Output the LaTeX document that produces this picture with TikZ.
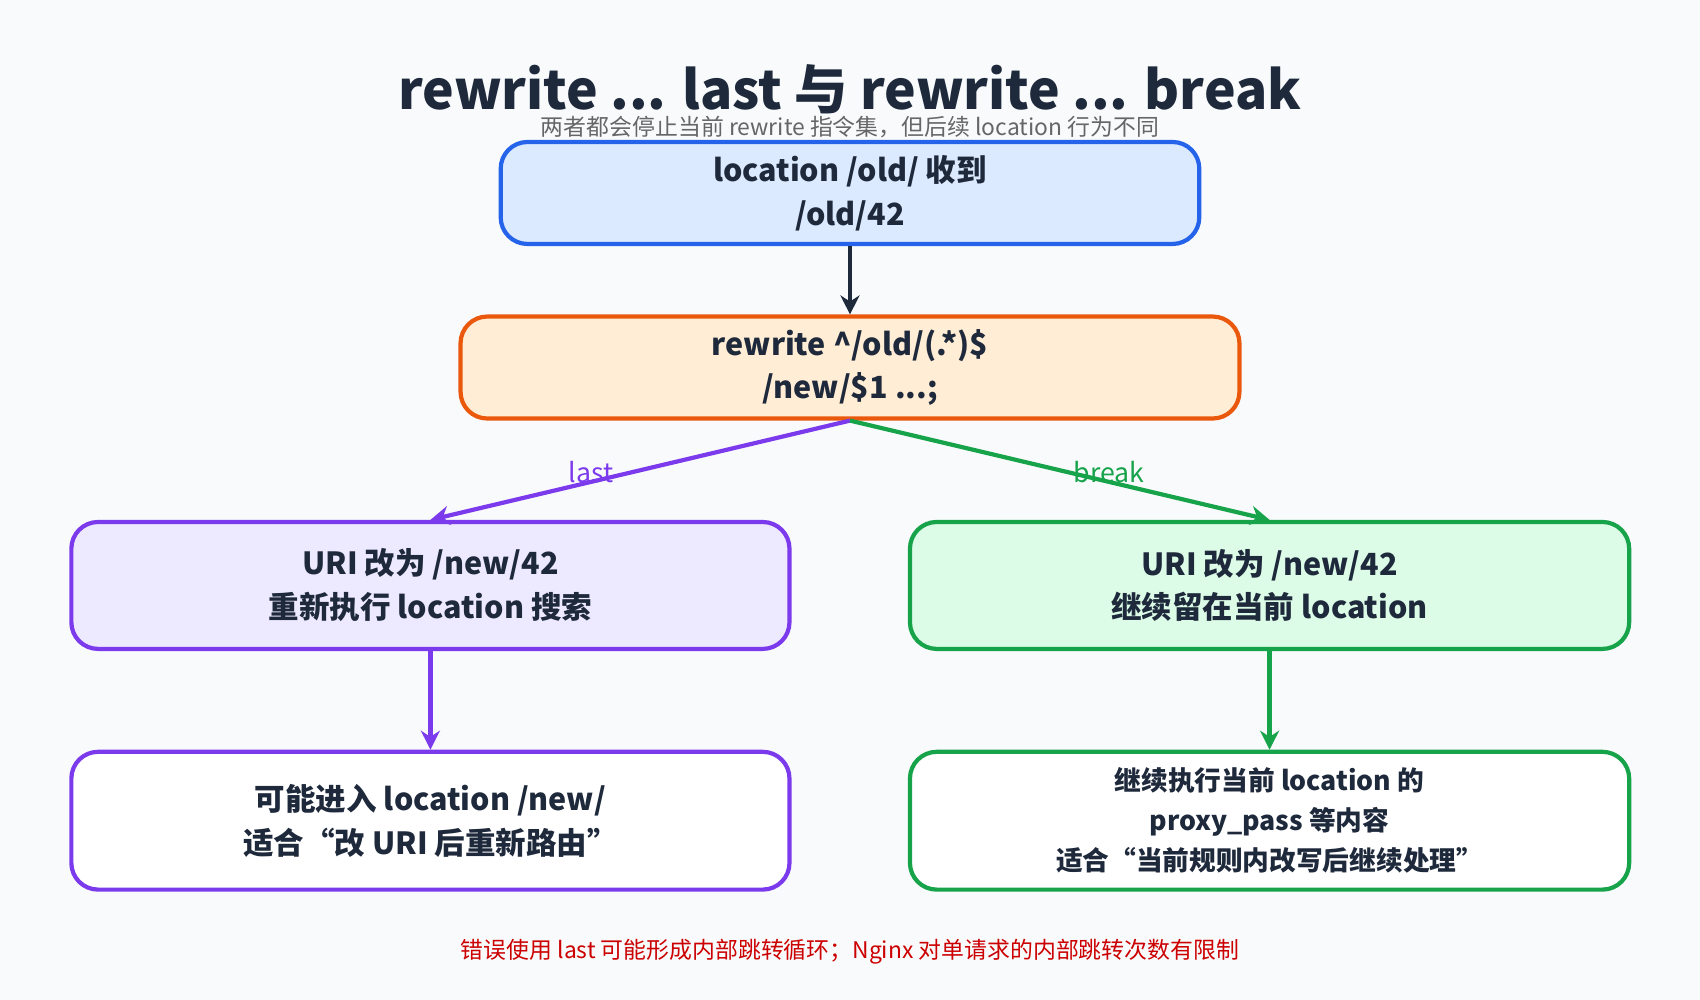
\documentclass[tikz,border=0pt]{standalone}
\usepackage{fontspec}
\setmainfont{Noto Sans CJK SC}
\usetikzlibrary{arrows.meta}
\definecolor{bg}{HTML}{F8FAFC}
\definecolor{blueline}{HTML}{2563EB}
\definecolor{bluefill}{HTML}{DBEAFE}
\definecolor{orangeline}{HTML}{EA580C}
\definecolor{orangefill}{HTML}{FFEDD5}
\definecolor{purpleline}{HTML}{7C3AED}
\definecolor{purplefill}{HTML}{EDE9FE}
\definecolor{greenline}{HTML}{16A34A}
\definecolor{greenfill}{HTML}{DCFCE7}
\definecolor{textdark}{HTML}{1E293B}
\begin{document}
\begin{tikzpicture}[x=0.01cm,y=-0.01cm,>={Stealth[length=5pt,width=5pt]},
    box/.style={draw,line width=1.1pt,rounded corners=7pt,align=center,inner sep=0pt,
      text=textdark,font=\fontsize{8}{11.5}\selectfont\bfseries},
    flow/.style={->,line width=1.1pt}]
  \fill[bg] (0,0) rectangle (1568,922);
  \useasboundingbox (0,0) rectangle (1568,922);

  \node[font=\fontsize{14}{16}\selectfont\bfseries,text=textdark] (title) at (784,82) {rewrite ... last 与 rewrite ... break};
  \node[font=\fontsize{6}{7}\selectfont,text=gray!80!black] (sub) at (784,117) {两者都会停止当前 rewrite 指令集，但后续 location 行为不同};

  \node[box,draw=blueline,fill=bluefill,minimum width=644\pgflinewidth*0+6.44cm,minimum height=0.94cm] (recv) at (784,178) {location /old/ 收到\\/old/42};
  \node[box,draw=orangeline,fill=orangefill,minimum width=7.18cm,minimum height=0.94cm] (rule) at (784,339) {rewrite \^{}/old/(.*)\$\\/new/\$1 ...;};
  \node[box,draw=purpleline,fill=purplefill,minimum width=6.62cm,minimum height=1.17cm] (lastbox) at (397,540) {URI 改为 /new/42\\重新执行 location 搜索};
  \node[box,draw=greenline,fill=greenfill,minimum width=6.63cm,minimum height=1.17cm] (breakbox) at (1171,540) {URI 改为 /new/42\\继续留在当前 location};
  \node[box,draw=purpleline,fill=white,minimum width=6.62cm,minimum height=1.27cm] (lastres) at (397,757) {可能进入 location /new/\\适合“改 URI 后重新路由”};
  \node[box,draw=greenline,fill=white,minimum width=6.63cm,minimum height=1.27cm,
    font=\fontsize{7}{10.5}\selectfont\bfseries] (breakres) at (1171,757) {继续执行当前 location 的\\proxy\_pass 等内容\\适合“当前规则内改写后继续处理”};

  \draw[flow,textdark] (recv) -- (rule);
  \draw[flow,purpleline] (rule.south) -- (lastbox.north);
  \draw[flow,greenline] (rule.south) -- (breakbox.north);
  \draw[flow,purpleline] (lastbox) -- (lastres);
  \draw[flow,greenline] (breakbox) -- (breakres);

  \node[text=purpleline,font=\fontsize{7}{8}\selectfont] (lastlbl) at (545,435) {last};
  \node[text=greenline,font=\fontsize{7}{8}\selectfont] (breaklbl) at (1023,435) {break};

  \node[text=red!80!black,font=\fontsize{6}{7}\selectfont] (note) at (784,878) {错误使用 last 可能形成内部跳转循环；Nginx 对单请求的内部跳转次数有限制};
\end{tikzpicture}
\end{document}
